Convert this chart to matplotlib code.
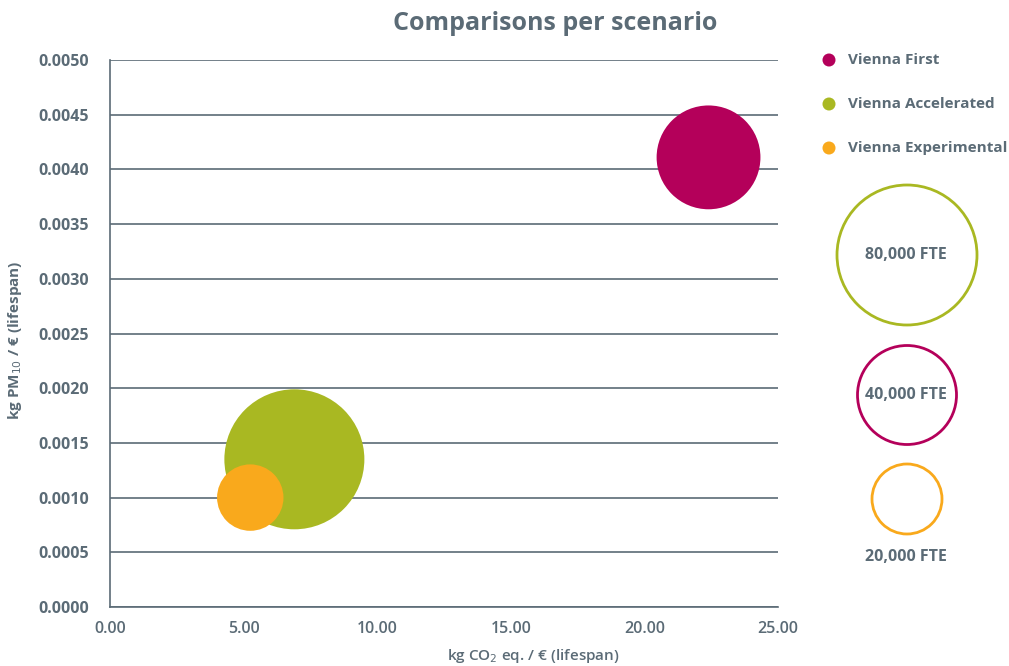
import matplotlib
matplotlib.use("Agg")
import matplotlib.pyplot as plt
import matplotlib.patches as mpatches
import numpy as np

# ---- data ----
scenarios = ["Vienna First", "Vienna Accelerated", "Vienna Experimental"]
co2 = [22.4, 6.9, 5.25]
pm10 = [0.00411, 0.00135, 0.00100]
fte = [44000, 80000, 18000]
colors = ["#b4005a", "#a9b822", "#f9a91c"]

legend_fte = [80000, 40000, 20000]
legend_labels = ["80,000 FTE", "40,000 FTE", "20,000 FTE"]
legend_colors = ["#a9b822", "#b4005a", "#f9a91c"]

xticks = [0, 5, 10, 15, 20, 25]
yticks = [0.0, 0.0005, 0.0010, 0.0015, 0.0020, 0.0025, 0.0030, 0.0035, 0.0040, 0.0045, 0.0050]

TXT = "#5b6b76"
GRID = "#5b6b76"

plt.rcParams["font.family"] = ["Open Sans", "DejaVu Sans"]

W, H = 1009, 666
dpi = 100
fig = plt.figure(figsize=(W / dpi, H / dpi), dpi=dpi)
ax = fig.add_axes([110 / W, 1 - 607 / H, (778 - 110) / W, (607 - 60) / H])

# size scale: 80,000 FTE -> diameter 140 px
px2pt = 72 / dpi
def size_of(v):
    d = 140 * np.sqrt(v / 80000) * px2pt
    return d ** 2

order = np.argsort(fte)[::-1]
for i in order:
    ax.scatter(co2[i], pm10[i], s=size_of(fte[i]), color=colors[i], edgecolors="none", zorder=3)

ax.set_xlim(0, 25)
ax.set_ylim(0, 0.005)
ax.set_xticks(xticks)
ax.set_yticks(yticks)
ax.set_xticklabels([f"{v:.2f}" for v in xticks], fontweight="semibold", fontsize=11.5, color=TXT)
ax.set_yticklabels([f"{v:.4f}" for v in yticks], fontweight="bold", fontsize=11.5, color=TXT)
ax.tick_params(axis="y", length=0, pad=15)
ax.tick_params(axis="x", length=0, pad=10)
for s in ["top", "right"]:
    ax.spines[s].set_visible(False)
for s in ["left", "bottom"]:
    ax.spines[s].set_color(GRID)
    ax.spines[s].set_linewidth(1.2)
ax.yaxis.grid(True, color=GRID, linewidth=1.2, zorder=0)
ax.set_axisbelow(True)

fig.text(533 / W, 1 - 656 / H, "kg CO$_2$ eq. / € (lifespan)", ha="center", va="center",
         fontweight="semibold", fontsize=11, color=TXT)
fig.text(15 / W, 1 - 340 / H, "kg PM$_{10}$ / € (lifespan)", ha="center", va="center",
         rotation=90, fontweight="bold", fontsize=11, color=TXT)
fig.text(555 / W, 1 - 24 / H, "Comparisons per scenario", ha="center", va="center",
         fontweight="bold", fontsize=18, color=TXT)

lax = fig.add_axes([0, 0, 1, 1], zorder=5)
lax.set_xlim(0, W)
lax.set_ylim(H, 0)
lax.axis("off")

# legend entries
for k, (name, c) in enumerate(zip(scenarios, colors)):
    y = 60 + 44 * k
    lax.add_patch(mpatches.Circle((829, y), 6.5, color=c, ec="none"))
    lax.text(848, y, name, ha="left", va="center", fontweight="bold", fontsize=11, color=TXT)

# size legend
centers = [255, 395, 499]
for v, lab, c, cy in zip(legend_fte, legend_labels, legend_colors, centers):
    r = 70 * np.sqrt(v / 80000)
    lax.add_patch(mpatches.Circle((907, cy), r, facecolor="none", edgecolor=c, linewidth=2))
    ty = cy if v >= 40000 else cy + 58
    lax.text(906, ty, lab, ha="center", va="center", fontweight="bold", fontsize=11.5, color=TXT)

fig.savefig("out.png", dpi=dpi)
